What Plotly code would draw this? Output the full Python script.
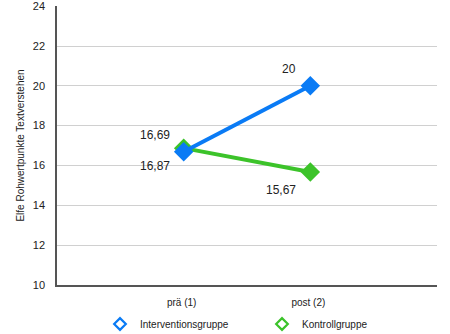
import plotly.graph_objects as go

categories = ["prä (1)", "post (2)"]
intervention = [16.69, 20]
kontroll = [16.87, 15.67]
y_ticks = [10, 12, 14, 16, 18, 20, 22, 24]

blue = "#0A7BF5"
green = "#3CC32A"

def fmt(v):
    return ("%g" % v).replace(".", ",")

fig = go.Figure()
for name, vals, col in [("Kontrollgruppe", kontroll, green), ("Interventionsgruppe", intervention, blue)]:
    fig.add_trace(go.Scatter(x=[0, 1], y=vals, mode="lines+markers",
                             line=dict(color=col, width=4),
                             marker=dict(symbol="diamond", size=15, color=col),
                             showlegend=False, hoverinfo="skip"))

# legend-only traces (open diamond markers)
fig.add_trace(go.Scatter(x=[None], y=[None], mode="markers", name="Interventionsgruppe",
                         legend="legend",
                         marker=dict(symbol="diamond-open", size=9, color=blue,
                                     line=dict(width=2.2, color=blue))))
fig.add_trace(go.Scatter(x=[None], y=[None], mode="markers", name="Kontrollgruppe",
                         legend="legend2",
                         marker=dict(symbol="diamond-open", size=9, color=green,
                                     line=dict(width=2.2, color=green))))

for i, v in enumerate(intervention):
    fig.add_annotation(x=i, y=v, text=fmt(v), showarrow=False,
                       xanchor="right", xshift=-12, yshift=17,
                       font=dict(size=12, color="#222"))
for i, v in enumerate(kontroll):
    fig.add_annotation(x=i, y=v, text=fmt(v), showarrow=False,
                       xanchor="right", xshift=-12, yshift=-18,
                       font=dict(size=12, color="#222"))

leg_common = dict(orientation="h", xref="container", yref="container", yanchor="middle",
                  xanchor="left", font=dict(size=10), bgcolor="rgba(0,0,0,0)")

fig.update_layout(
    width=450, height=334,
    margin=dict(l=57, r=13, t=6, b=49, autoexpand=False),
    paper_bgcolor="white", plot_bgcolor="white",
    font=dict(family="Liberation Sans, Arial, sans-serif", size=11, color="#222"),
    xaxis=dict(range=[-1, 2], tickmode="array", tickvals=[0, 1], ticktext=categories,
               showgrid=False, zeroline=False, showline=True, linecolor="#555", linewidth=1.5,
               ticks="", tickfont=dict(size=10), ticklabelstandoff=7, ticklabelshift=-2,
               fixedrange=True),
    yaxis=dict(range=[9.995, 24.01], tickvals=y_ticks, showgrid=True, gridcolor="#d0d0d0", gridwidth=1,
               zeroline=False, showline=True, linecolor="#555", linewidth=1.5, ticks="",
               tickfont=dict(size=11), ticklabelstandoff=8,
               title=dict(text="Elfe Rohwertpunkte Textverstehen", font=dict(size=10), standoff=6)),
    legend=dict(x=(120 - 20) / 450, y=1 - 324 / 334, **leg_common),
    legend2=dict(x=(282 - 20) / 450, y=1 - 324 / 334, **leg_common),
)

fig.write_html("out.html")
